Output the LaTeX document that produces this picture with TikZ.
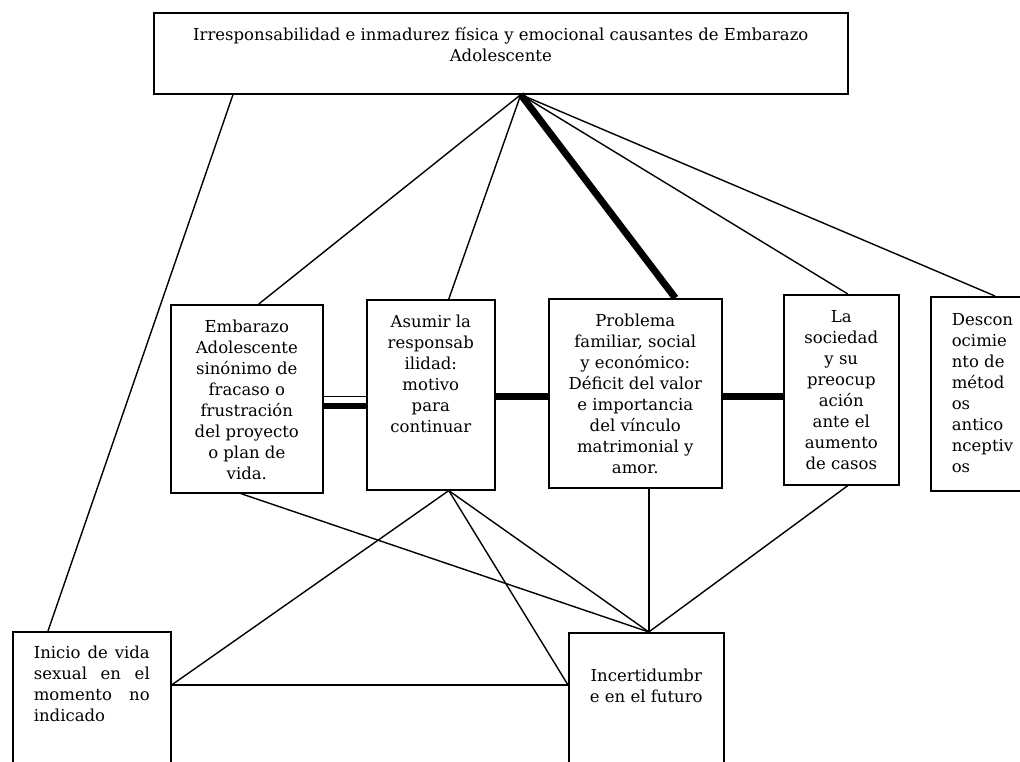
\documentclass[tikz,border=0pt]{standalone}
\usepackage{fontspec}
\setmainfont{DejaVu Serif}
\usepackage{tikz}
\newcommand{\celltext}[4]{\parbox[c][#2][t]{#1}{\vspace*{#3}#4}}

\begin{document}
\begin{tikzpicture}[x=1pt, y=1pt,
  cbox/.style={rectangle, draw, line width=1.6pt, inner sep=0pt, anchor=north west, font=\fontsize{16.5}{21}\selectfont},
  link/.style={line width=1.4pt},
  heavy/.style={line width=7pt}]
\useasboundingbox (0,0) rectangle (1020,762);
\clip (0,0) rectangle (1020,762);
\node (irr) [cbox] at (153,750) {\celltext{694pt}{81pt}{13pt}{\centering\strut Irresponsabilidad e inmadurez física y emocional causantes de Embarazo\\ Adolescente}};
\node (emb) [cbox] at (170,458) {\celltext{152pt}{188pt}{13pt}{\centering\strut Embarazo\\ Adolescente\\ sinónimo de\\ fracaso o\\ frustración\\ del proyecto\\ o plan de\\ vida.}};
\node (asu) [cbox] at (366,463) {\celltext{128pt}{190pt}{13pt}{\centering\strut Asumir la\\ responsab\\ ilidad:\\ motivo\\ para\\ continuar}};
\node (pro) [cbox] at (548,464) {\celltext{173pt}{189pt}{13pt}{\centering\strut Problema\\ familiar, social\\ y económico:\\ Déficit del valor\\ e importancia\\ del vínculo\\ matrimonial y\\ amor.}};
\node (soc) [cbox] at (783,468) {\celltext{115pt}{190pt}{13pt}{\centering\strut La\\ sociedad\\ y su\\ preocup\\ ación\\ ante el\\ aumento\\ de casos}};
\node (des) [cbox] at (930,466) {\celltext{110pt}{194pt}{14pt}{\raggedright\leftskip=21pt\strut Descon\\ ocimie\\ nto de\\ métod\\ os\\ antico\\ nceptiv\\ os}};
\node (ini) [cbox] at (12,131) {\celltext{158pt}{200pt}{12pt}{\leftskip=21pt\strut\makebox[116pt][s]{Inicio de vida}\\ \makebox[116pt][s]{sexual en el}\\ \makebox[116pt][s]{momento no}\\ indicado}};
\node (inc) [cbox] at (568,130) {\celltext{155pt}{200pt}{34pt}{\centering\strut Incertidumbr\\ e en el futuro}};

\coordinate (hub) at ([xshift=20pt]irr.south);
\coordinate (meet) at ([xshift=2.5pt]inc.north);
\coordinate (fork) at ([xshift=18pt]asu.south);
\coordinate (side) at ([yshift=-54pt]ini.north east);

\draw [link] (hub) -- ([xshift=12pt]emb.north);
\draw [link] (hub) -- ([xshift=18pt]asu.north);
\draw [heavy] (hub) -- ([xshift=40pt]pro.north);
\draw [link] (hub) -- ([xshift=6.5pt]soc.north);
\draw [link] (hub) -- ([xshift=65pt]des.north west);
\draw [link] ([xshift=80pt]irr.south west) -- ([xshift=36pt]ini.north west);
\draw [link] ([yshift=2pt]emb.east) -- ([yshift=2pt]emb.east -| asu.west);
\draw [line width=6pt] ([yshift=-7pt]emb.east) -- ([yshift=-7pt]emb.east -| asu.west);
\draw [heavy] ([yshift=-2pt]asu.east) -- ([yshift=-2pt]asu.east -| pro.west);
\draw [heavy] ([yshift=-3.5pt]pro.east) -- ([yshift=-3.5pt]pro.east -| soc.west);
\draw [link] ([xshift=-6pt]emb.south) -- (meet);
\draw [link] (fork) -- (meet);
\draw [link] (fork) -- (side);
\draw [link] (fork) -- (side -| inc.west);
\draw [link] ([xshift=13.5pt]pro.south) -- (meet);
\draw [link] ([xshift=6.5pt]soc.south) -- (meet);
\draw [link] (side) -- (side -| inc.west);
\end{tikzpicture}
\end{document}
